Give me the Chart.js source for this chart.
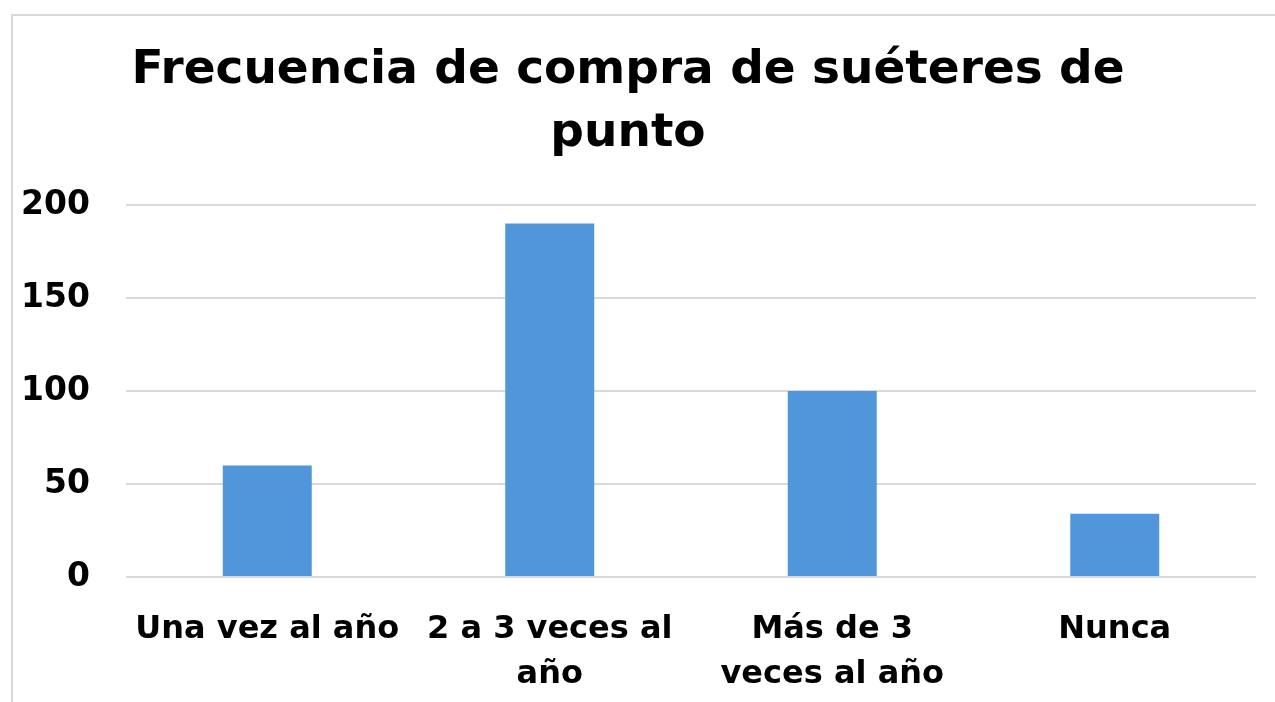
<!DOCTYPE html>
<html>
<head>
<meta charset="utf-8">
<script src="https://cdn.jsdelivr.net/npm/chart.js@4/dist/chart.umd.min.js"></script>
<style>
  html, body { margin: 0; padding: 0; background: #fff; overflow: hidden; }
  #frame { position: absolute; left: 11px; top: 14px; width: 1300px; height: 720px; border: 2px solid #d9d9d9; }
  #wrap { position: absolute; left: 0; top: 0; width: 1275px; height: 702px; }
</style>
</head>
<body>
<div id="frame"></div>
<div id="wrap"><canvas id="chart"></canvas></div>
<script>
const titleLines = ['Frecuencia de compra de suéteres de', 'punto']
const categories = [['Una vez al año'], ['2 a 3 veces al', 'año'], ['Más de 3', 'veces al año'], ['Nunca']]
const values = [60, 190, 100, 34]
const yTicks = [0, 50, 100, 150, 200]

const fontFamily = '"DejaVu Sans", sans-serif'

const chart = new Chart(document.getElementById('chart').getContext('2d'), {
	type: 'bar',
	data: {
		labels: categories,
		datasets: [
			{
				data: values,
				backgroundColor: '#5195DA',
				barPercentage: 0.63,
				categoryPercentage: 0.5
			}
		]
	},
	options: {
		responsive: true,
		maintainAspectRatio: false,
		animation: false,
		layout: { padding: { left: 0, right: 19, top: 40, bottom: 0 } },
		plugins: {
			legend: { display: false },
			tooltip: { enabled: false },
			title: {
				display: true,
				text: titleLines,
				color: '#000',
				font: { family: fontFamily, size: 47, weight: 'bold', lineHeight: 1.33 },
				padding: { top: 0, bottom: 40 }
			}
		},
		scales: {
			x: {
				afterFit: axis => {
					axis.height = 125
				},
				grid: { display: false },
				border: { display: false },
				ticks: {
					color: '#000',
					font: { family: fontFamily, size: 32, weight: 'bold', lineHeight: 1.4 },
					padding: 22,
					maxRotation: 0,
					autoSkip: false
				}
			},
			y: {
				min: 0,
				max: 200,
				afterBuildTicks: axis => {
					axis.ticks = yTicks.map(v => ({ value: v }))
				},
				afterFit: axis => {
					axis.width = 126
				},
				grid: { color: '#d9d9d9', lineWidth: 2, drawTicks: false },
				border: { display: false },
				ticks: {
					color: '#000',
					font: { family: fontFamily, size: 33, weight: 'bold' },
					padding: 36
				}
			}
		}
	}
})
</script>
</body>
</html>
